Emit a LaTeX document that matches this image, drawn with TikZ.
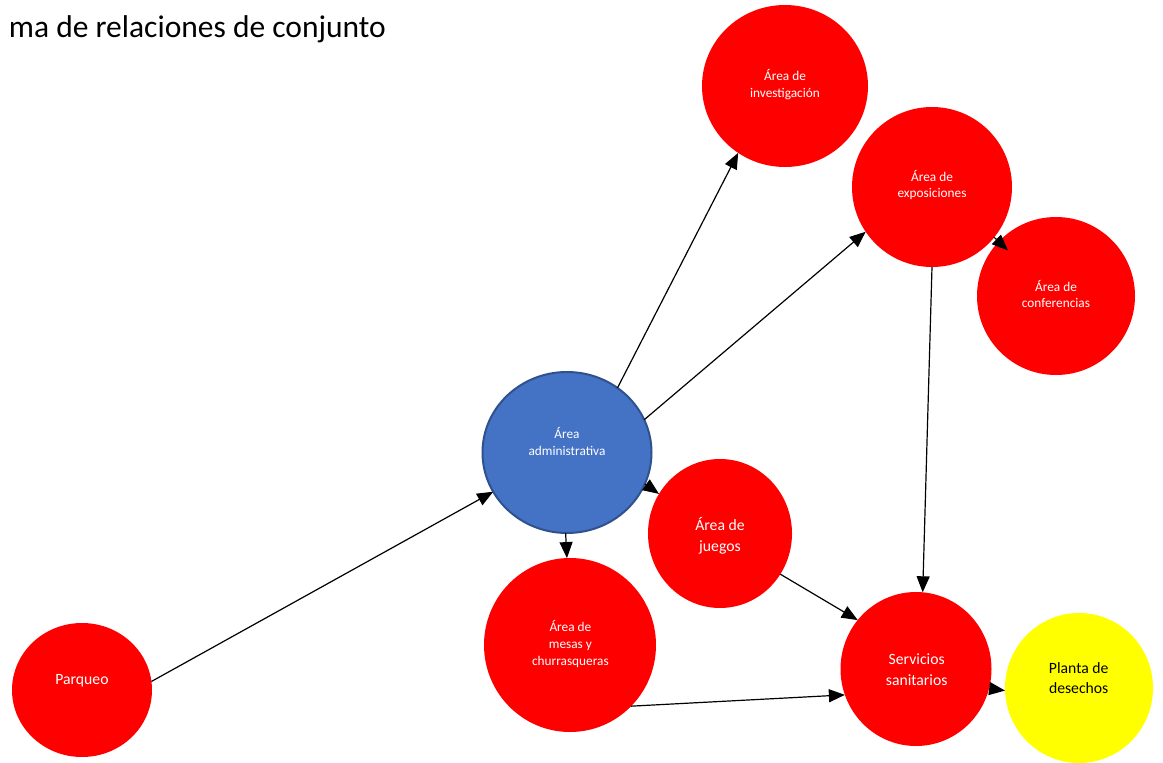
\documentclass[tikz,border=0pt]{standalone}
\usepackage{fontspec}
\setmainfont{Carlito}
\usetikzlibrary{shapes.geometric,arrows.meta,calc}
\definecolor{zred}{HTML}{FF0000}
\definecolor{zblue}{HTML}{4472C4}
\definecolor{zblueb}{HTML}{2F528F}
\definecolor{zyel}{HTML}{FFFF00}
\tikzset{
  zone/.style={ellipse, inner sep=0pt, outer sep=0pt, fill=zred, draw=none},
  lbl/.style={font=\fontsize{13.3}{16.8}\selectfont, text=white, align=center, inner sep=0pt},
  lblbig/.style={font=\fontsize{15.7}{20.5}\selectfont, text=white, align=center, inner sep=0pt},
  conn/.style={draw=black, line width=1.2pt, -{Triangle[length=16pt,width=13pt]}}
}
\begin{document}
\begin{tikzpicture}[x=1pt,y=-1pt]
\useasboundingbox (0,0) rectangle (1163,763);
\fill[white] (0,0) rectangle (1163,763);

% title
\node[anchor=base east, inner sep=0pt, font=\fontsize{31.5}{38}\selectfont] (title) at (386,37) {ma de relaciones de conjunto};

% circles
\node[zone, minimum width=166pt, minimum height=162pt] (inv) at (785,86) {};
\node[zone, minimum width=160pt, minimum height=160pt] (exp) at (932,187) {};
\node[zone, minimum width=158pt, minimum height=158pt] (conf) at (1056,296) {};
\node[zone, fill=zblue, draw=zblueb, line width=2pt, minimum width=169pt, minimum height=161pt] (adm) at (567,452.5) {};
\node[zone, minimum width=144pt, minimum height=149pt] (jue) at (720,533.5) {};
\node[zone, minimum width=172pt, minimum height=174pt] (mes) at (570,645) {};
\node[zone, minimum width=151pt, minimum height=154pt] (ser) at (916,669) {};
\node[zone, fill=zyel, minimum width=148pt, minimum height=150pt] (pla) at (1079,688) {};
\node[zone, minimum width=140pt, minimum height=134pt] (parq) at (82,690) {};

% labels
\node[lbl] (tinv) at (785,84.5) {Área de\\investigación};
\node[lbl] (texp) at (932,185) {Área de\\exposiciones};
\node[lbl] (tconf) at (1056,294) {Área de\\conferencias};
\node[lbl] (tadm) at (567,441.7) {Área\\administrativa};
\node[lblbig] (tjue) at (720,535.7) {Área de\\juegos};
\node[lbl] (tmes) at (570.4,644) {Área de\\mesas y\\churrasqueras};
\node[lblbig] (tser) at (916.7,669.5) {Servicios\\sanitarios};
\node[lblbig, text=black] (tpla) at (1078.7,678) {Planta de\\desechos};
\node[lblbig] (tparq) at (82,680.7) {Parqueo};

% connectors
\draw[conn] (parq.7) -- (adm.208);
\draw[conn] (adm.52) -- (inv.235);
\draw[conn] (adm.23.5) -- (exp.214);
\draw[conn] (exp.321) -- ($(exp.321)!19pt!(conf.center)$);
\draw[conn] (exp.270) -- (ser.85);
\draw[conn] (adm.338.6) -- (jue.147);
\draw[conn] (adm.269) -- (mes.92);
\draw[conn] (jue.326) -- (ser.140.4);
\draw[conn] (mes.315.8) -- (ser.200.5);
\draw[conn] (ser.345.7) -- (pla.182.5);
\end{tikzpicture}
\end{document}
